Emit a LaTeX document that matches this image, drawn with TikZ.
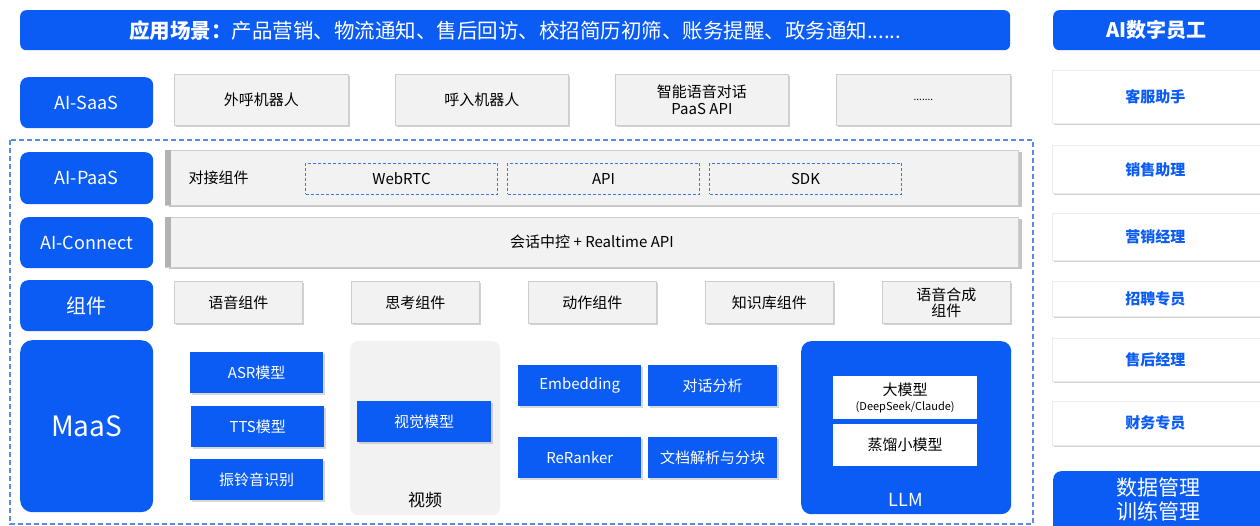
\documentclass[tikz,border=0pt]{standalone}
\usepackage{fontspec}
\setmainfont{Noto Sans CJK SC}
\usetikzlibrary{shadows}
\definecolor{mblue}{RGB}{10,92,245}
\definecolor{dblue}{RGB}{60,120,230}
\definecolor{gfill}{RGB}{242,242,242}
\definecolor{gline}{RGB}{205,205,205}
\newcommand\bx[7]{\node[#2, minimum width={(#5-#3)*1pt}, minimum height={(#6-#4)*1pt}, anchor=north west, inner sep=0pt, align=center] (#1) at (#3,#4) {#7};}
\begin{document}
\begin{tikzpicture}[x=1pt,y=-1pt,
  bluelab/.style={fill=mblue, rounded corners=8pt, text=white, font=\fontsize{18}{20}\selectfont},
  graybox/.style={fill=gfill, draw=gline, line width=0.8pt, drop shadow={shadow xshift=1.5pt, shadow yshift=-1.5pt, opacity=0.35}, font=\fontsize{15}{16}\selectfont},
  widebox/.style={fill=gfill, draw=gline, line width=0.8pt, drop shadow={shadow xshift=3.5pt, shadow yshift=-1.5pt, opacity=0.45}, font=\fontsize{15}{16}\selectfont},
  dbox/.style={draw=dblue, line width=1pt, dash pattern=on 3pt off 2pt, font=\fontsize{15}{16}\selectfont},
  bluebox/.style={fill=mblue, drop shadow={shadow xshift=1.5pt, shadow yshift=-1.5pt, opacity=0.3}, text=white, font=\fontsize{15}{16}\selectfont},
  whitebox/.style={fill=white, font=\fontsize{14}{16}\selectfont},
  rbox/.style={fill=white, draw=gray!15, line width=0.6pt, drop shadow={shadow xshift=1.5pt, shadow yshift=-2pt, opacity=0.35}, text=mblue, font=\bfseries\fontsize{15}{16}\selectfont},
]
\useasboundingbox (0,0) rectangle (1260,526);
\fill[white] (0,0) rectangle (1260,526);
% outer dashed frame
\draw[draw=dblue!85, line width=1.4pt, dash pattern=on 5pt off 3pt] (10,140) rectangle (1033,524);
% top banner
\bx{banner}{fill=mblue, rounded corners=6pt, text=white, font=\fontsize{20.5}{22}\selectfont}{20}{10}{1010}{50}{\textbf{应用场景：}产品营销、物流通知、售后回访、校招简历初筛、账务提醒、政务通知......}
\bx{aihead}{fill=mblue, rounded corners=6pt, text=white, font=\bfseries\fontsize{20}{22}\selectfont}{1053}{10}{1270}{50}{\hspace*{-10pt}AI数字员工}
% row labels
\bx{saas}{bluelab}{20}{77}{153}{128}{AI-SaaS}
\bx{paas}{bluelab}{20}{152}{153}{204}{AI-PaaS}
\bx{conn}{bluelab}{20}{217}{153}{268}{AI-Connect}
\bx{comp}{bluelab, font=\fontsize{20}{22}\selectfont}{20}{280}{153}{331}{组件}
\bx{maas}{bluelab, rounded corners=12pt, font=\fontsize{28}{30}\selectfont}{20}{340}{153}{512}{MaaS}
% AI-SaaS row
\bx{s1}{graybox}{174}{74}{348}{125}{外呼机器人}
\bx{s2}{graybox}{395}{74}{568}{125}{呼入机器人}
\bx{s3}{graybox, font=\fontsize{15}{17}\selectfont}{615}{74}{788}{125}{智能语音对话\\PaaS API}
\bx{s4}{graybox, font=\fontsize{10}{12}\selectfont}{836}{74}{1010}{125}{.......}
% AI-PaaS row
\bx{pw}{widebox}{165}{150}{1018}{205}{}
\fill[gray!60] (165,150) rectangle (171,205);
\node[anchor=west, font=\fontsize{15}{16}\selectfont] (djzj) at (185,178) {对接组件};
\bx{webrtc}{dbox}{305}{163}{497}{194}{WebRTC}
\bx{api}{dbox}{507}{163}{699}{194}{API}
\bx{sdk}{dbox}{709}{163}{901}{194}{SDK}
% AI-Connect row
\bx{cw}{widebox}{165}{217}{1018}{267}{}
\fill[gray!60] (165,217) rectangle (171,267);
\node[font=\fontsize{15}{16}\selectfont] (hhzk) at (592,242) {会话中控 + Realtime API};
% components row
\bx{c1}{graybox}{174}{281}{302}{323}{语音组件}
\bx{c2}{graybox}{351}{281}{479}{323}{思考组件}
\bx{c3}{graybox}{528}{281}{656}{323}{动作组件}
\bx{c4}{graybox}{705}{281}{833}{323}{知识库组件}
\bx{c5}{graybox, font=\fontsize{15}{16}\selectfont}{882}{281}{1010}{323}{语音合成\\组件}
% MaaS row
\bx{asr}{bluebox}{190}{352}{323}{393}{ASR模型}
\bx{tts}{bluebox}{191}{406}{324}{447}{TTS模型}
\bx{ring}{bluebox}{190}{459}{323}{500}{振铃音识别}
\bx{video}{fill=gfill, rounded corners=8pt}{350}{341}{500}{515}{}
\node[font=\fontsize{17}{18}\selectfont] (vlab) at (425,500) {视频};
\bx{vis}{bluebox}{357}{401}{491}{442}{视觉模型}
\bx{emb}{bluebox}{518}{365}{641}{406}{Embedding}
\bx{dlg}{bluebox}{648}{365}{777}{406}{对话分析}
\bx{rer}{bluebox}{518}{437}{641}{478}{ReRanker}
\bx{doc}{bluebox}{648}{437}{777}{478}{文档解析与分块}
\bx{llm}{fill=mblue, rounded corners=10pt}{801}{341}{1011}{514}{}
\node[text=white, font=\fontsize{18}{20}\selectfont] (llmlab) at (906,500) {LLM};
\bx{big}{whitebox}{833}{376}{977}{419}{\fontsize{15}{15}\selectfont 大模型\\[-1pt]\fontsize{11}{12}\selectfont (DeepSeek/Claude)}
\bx{small}{whitebox, font=\fontsize{15}{16}\selectfont}{833}{424}{977}{466}{蒸馏小模型}
% right column
\bx{r1}{rbox}{1052}{70}{1270}{123}{\hspace*{-12pt}客服助手}
\bx{r2}{rbox}{1052}{145}{1270}{193}{\hspace*{-12pt}销售助理}
\bx{r3}{rbox}{1052}{213}{1270}{260}{\hspace*{-12pt}营销经理}
\bx{r4}{rbox}{1052}{281}{1270}{316}{\hspace*{-12pt}招聘专员}
\bx{r5}{rbox}{1052}{338}{1270}{381}{\hspace*{-12pt}售后经理}
\bx{r6}{rbox}{1052}{401}{1270}{445}{\hspace*{-12pt}财务专员}
\bx{r7}{fill=mblue, rounded corners=8pt}{1053}{471}{1270}{540}{}
\node[text=white, font=\fontsize{21}{24}\selectfont, align=center] (r7t) at (1158,499) {数据管理\\训练管理};
\end{tikzpicture}
\end{document}
